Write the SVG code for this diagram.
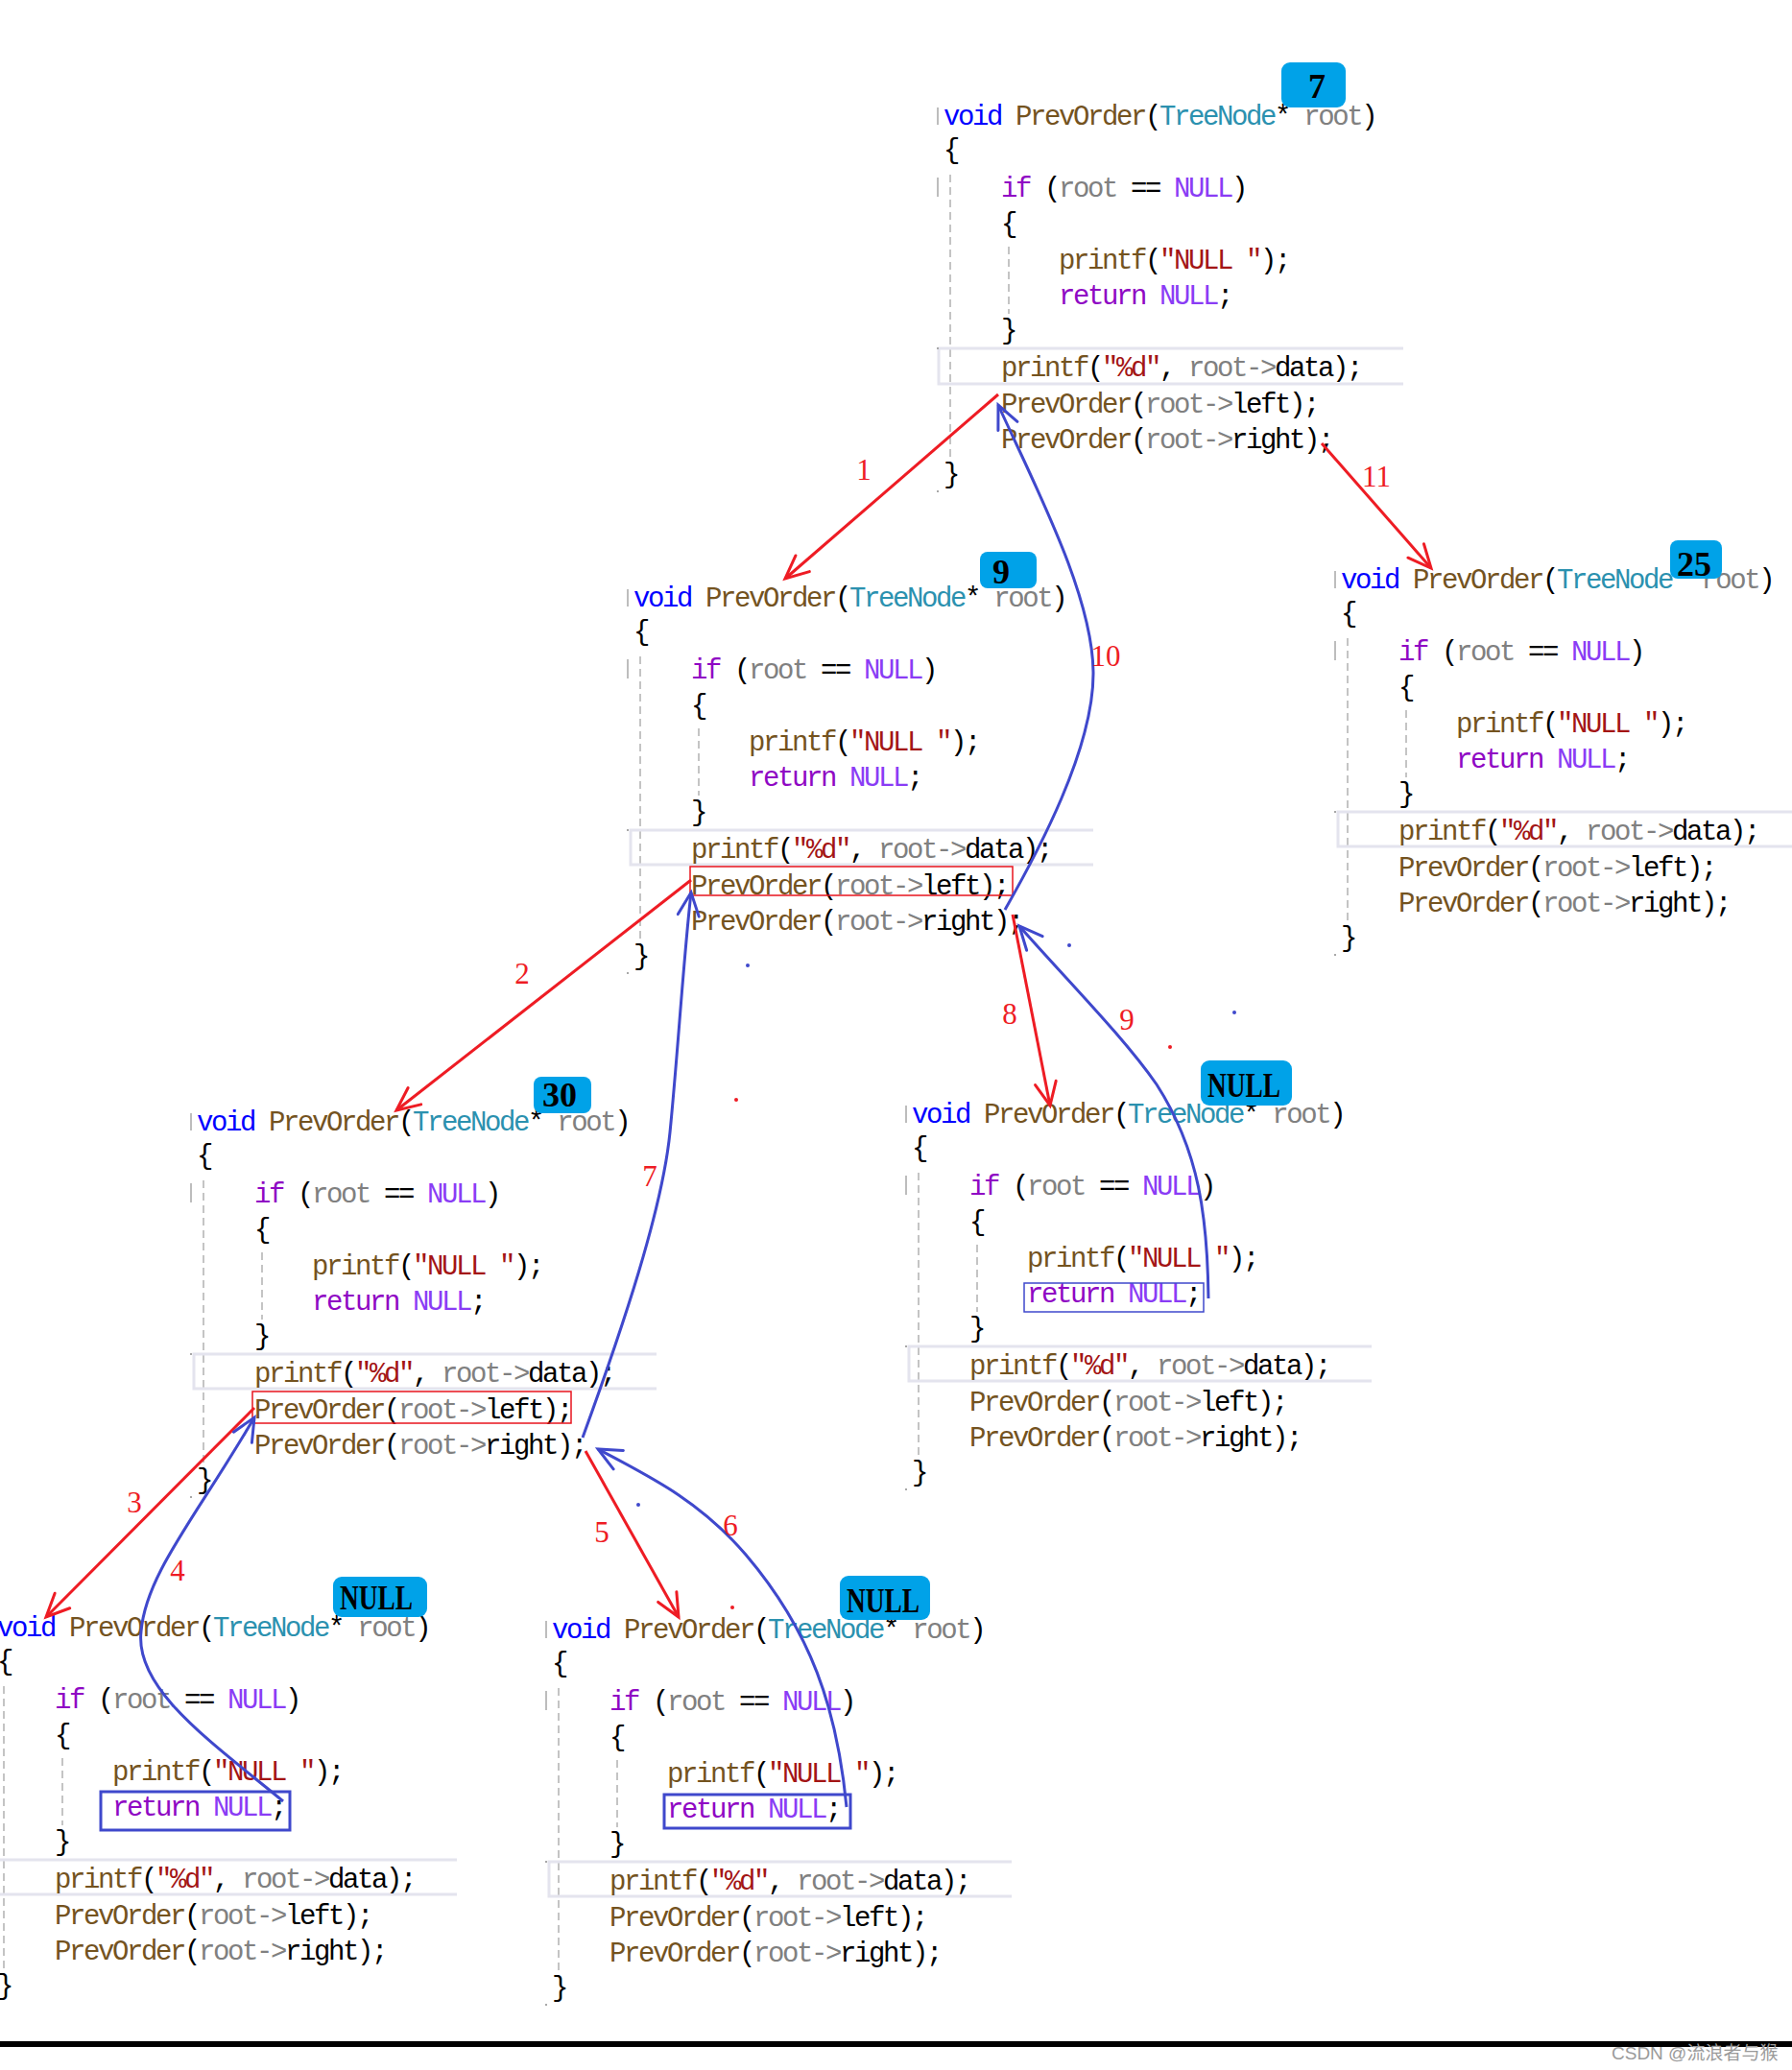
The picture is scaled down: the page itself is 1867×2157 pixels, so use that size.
<svg xmlns="http://www.w3.org/2000/svg" width="1867" height="2157" viewBox="0 0 1867 2157">
<style>
.c{font-family:"Liberation Mono",monospace;font-size:29px;letter-spacing:-2.4px;fill:#000;white-space:pre}
.kw{fill:#0000ff}.fn{fill:#74531f}.ty{fill:#2b91af}.id{fill:#808080}.kp{fill:#8f08c4}.mc{fill:#8a3cf5}.st{fill:#a31515}
.mk{stroke:#a8a8a8;stroke-width:1.5;fill:none}
.guide{stroke:#c4c4c4;stroke-width:2;stroke-dasharray:8 5;fill:none}
.hl{stroke:#e4e4ee;stroke-width:3;fill:none}
.dot{fill:#a8a8a8}
.badge{fill:#00a2e8}
.bt{font-family:"Liberation Serif",serif;font-size:36px;font-weight:bold;fill:#000;text-anchor:middle}
.rbox{fill:none;stroke:#e8141e;stroke-width:1.5}
.bbox{fill:none;stroke:#3f48cc}
.ra{fill:none;stroke:#ee1c24;stroke-width:3}
.ba{fill:none;stroke:#3f48cc;stroke-width:3}
.lbl{font-family:"Liberation Serif",serif;font-size:31px;fill:#ee1c24;text-anchor:middle}
</style>
<defs>
<marker id="mr" viewBox="-30 -15 32 30" refX="0" refY="0" markerWidth="32" markerHeight="30" markerUnits="userSpaceOnUse" orient="auto" overflow="visible"><path d="M-24,-11L0,0L-24,11" fill="none" stroke="#ee1c24" stroke-width="3" stroke-linecap="round"/></marker>
<marker id="mb" viewBox="-30 -15 32 30" refX="0" refY="0" markerWidth="32" markerHeight="30" markerUnits="userSpaceOnUse" orient="auto" overflow="visible"><path d="M-24,-11L0,0L-24,11" fill="none" stroke="#3f48cc" stroke-width="3" stroke-linecap="round"/></marker>
</defs>
<rect width="1867" height="2157" fill="#fff"/>

<g id="node-7">
<g transform="translate(983,130)">
<path class="mk" d="M-6,-18V0M-6,55V75"/>
<path class="guide" d="M7,52V353M68,127V197"/>
<path class="hl" d="M479,233H-5V270H479"/>
<rect class="dot" x="-7" y="232" width="2" height="2"/><rect class="dot" x="-7" y="381" width="2" height="2"/>
<text class="c" x="0" y="0"><tspan class="kw">void</tspan> <tspan class="fn">PrevOrder</tspan>(<tspan class="ty">TreeNode</tspan>* <tspan class="id">root</tspan>)</text>
<text class="c" x="0" y="35">{</text>
<text class="c" x="60" y="75"><tspan class="kp">if</tspan> (<tspan class="id">root</tspan> == <tspan class="mc">NULL</tspan>)</text>
<text class="c" x="60" y="112">{</text>
<text class="c" x="120" y="150"><tspan class="fn">printf</tspan>(<tspan class="st">"NULL "</tspan>);</text>
<text class="c" x="120" y="187"><tspan class="kp">return</tspan> <tspan class="mc">NULL</tspan>;</text>
<text class="c" x="60" y="223">}</text>
<text class="c" x="60" y="262"><tspan class="fn">printf</tspan>(<tspan class="st">"%d"</tspan>, <tspan class="id">root-&gt;</tspan>data);</text>
<text class="c" x="60" y="300"><tspan class="fn">PrevOrder</tspan>(<tspan class="id">root-&gt;</tspan>left);</text>
<text class="c" x="60" y="337"><tspan class="fn">PrevOrder</tspan>(<tspan class="id">root-&gt;</tspan>right);</text>
<text class="c" x="0" y="373">}</text>
</g>
<rect class="badge" x="1335" y="65" width="67" height="47" rx="9"/>
<text class="bt" x="1372" y="102">7</text>
</g>

<g id="node-9">
<g transform="translate(660,632)">
<path class="mk" d="M-6,-18V0M-6,55V75"/>
<path class="guide" d="M7,52V353M68,127V197"/>
<path class="hl" d="M479,233H-3V269H479"/>
<rect class="dot" x="-7" y="232" width="2" height="2"/><rect class="dot" x="-7" y="381" width="2" height="2"/>
<text class="c" x="0" y="0"><tspan class="kw">void</tspan> <tspan class="fn">PrevOrder</tspan>(<tspan class="ty">TreeNode</tspan>* <tspan class="id">root</tspan>)</text>
<text class="c" x="0" y="35">{</text>
<text class="c" x="60" y="75"><tspan class="kp">if</tspan> (<tspan class="id">root</tspan> == <tspan class="mc">NULL</tspan>)</text>
<text class="c" x="60" y="112">{</text>
<text class="c" x="120" y="150"><tspan class="fn">printf</tspan>(<tspan class="st">"NULL "</tspan>);</text>
<text class="c" x="120" y="187"><tspan class="kp">return</tspan> <tspan class="mc">NULL</tspan>;</text>
<text class="c" x="60" y="223">}</text>
<text class="c" x="60" y="262"><tspan class="fn">printf</tspan>(<tspan class="st">"%d"</tspan>, <tspan class="id">root-&gt;</tspan>data);</text>
<text class="c" x="60" y="300"><tspan class="fn">PrevOrder</tspan>(<tspan class="id">root-&gt;</tspan>left);</text>
<text class="c" x="60" y="337"><tspan class="fn">PrevOrder</tspan>(<tspan class="id">root-&gt;</tspan>right);</text>
<text class="c" x="0" y="373">}</text>
<rect class="rbox" x="59" y="271" width="336" height="30"/>
</g>
<rect class="badge" x="1021" y="575" width="59" height="38" rx="8"/>
<text class="bt" x="1043" y="608">9</text>
</g>

<g id="node-25">
<g transform="translate(1397,613)">
<path class="mk" d="M-6,-18V0M-6,55V75"/>
<path class="guide" d="M7,52V353M68,127V197"/>
<path class="hl" d="M479,233H-3V269H479"/>
<rect class="dot" x="-7" y="232" width="2" height="2"/><rect class="dot" x="-7" y="381" width="2" height="2"/>
<text class="c" x="0" y="0"><tspan class="kw">void</tspan> <tspan class="fn">PrevOrder</tspan>(<tspan class="ty">TreeNode</tspan>* <tspan class="id">root</tspan>)</text>
<text class="c" x="0" y="35">{</text>
<text class="c" x="60" y="75"><tspan class="kp">if</tspan> (<tspan class="id">root</tspan> == <tspan class="mc">NULL</tspan>)</text>
<text class="c" x="60" y="112">{</text>
<text class="c" x="120" y="150"><tspan class="fn">printf</tspan>(<tspan class="st">"NULL "</tspan>);</text>
<text class="c" x="120" y="187"><tspan class="kp">return</tspan> <tspan class="mc">NULL</tspan>;</text>
<text class="c" x="60" y="223">}</text>
<text class="c" x="60" y="262"><tspan class="fn">printf</tspan>(<tspan class="st">"%d"</tspan>, <tspan class="id">root-&gt;</tspan>data);</text>
<text class="c" x="60" y="300"><tspan class="fn">PrevOrder</tspan>(<tspan class="id">root-&gt;</tspan>left);</text>
<text class="c" x="60" y="337"><tspan class="fn">PrevOrder</tspan>(<tspan class="id">root-&gt;</tspan>right);</text>
<text class="c" x="0" y="373">}</text>
</g>
<rect class="badge" x="1740" y="563" width="54" height="40" rx="8"/>
<text class="bt" x="1765" y="600">25</text>
</g>

<g id="node-30">
<g transform="translate(205,1178)">
<path class="mk" d="M-6,-18V0M-6,55V75"/>
<path class="guide" d="M7,52V353M68,127V197"/>
<path class="hl" d="M479,233H-3V269H479"/>
<rect class="dot" x="-7" y="232" width="2" height="2"/><rect class="dot" x="-7" y="381" width="2" height="2"/>
<text class="c" x="0" y="0"><tspan class="kw">void</tspan> <tspan class="fn">PrevOrder</tspan>(<tspan class="ty">TreeNode</tspan>* <tspan class="id">root</tspan>)</text>
<text class="c" x="0" y="35">{</text>
<text class="c" x="60" y="75"><tspan class="kp">if</tspan> (<tspan class="id">root</tspan> == <tspan class="mc">NULL</tspan>)</text>
<text class="c" x="60" y="112">{</text>
<text class="c" x="120" y="150"><tspan class="fn">printf</tspan>(<tspan class="st">"NULL "</tspan>);</text>
<text class="c" x="120" y="187"><tspan class="kp">return</tspan> <tspan class="mc">NULL</tspan>;</text>
<text class="c" x="60" y="223">}</text>
<text class="c" x="60" y="262"><tspan class="fn">printf</tspan>(<tspan class="st">"%d"</tspan>, <tspan class="id">root-&gt;</tspan>data);</text>
<text class="c" x="60" y="300"><tspan class="fn">PrevOrder</tspan>(<tspan class="id">root-&gt;</tspan>left);</text>
<text class="c" x="60" y="337"><tspan class="fn">PrevOrder</tspan>(<tspan class="id">root-&gt;</tspan>right);</text>
<text class="c" x="0" y="373">}</text>
<rect class="rbox" x="58" y="272" width="332" height="33"/>
</g>
<rect class="badge" x="556" y="1122" width="60" height="38" rx="8"/>
<text class="bt" x="583" y="1153">30</text>
</g>

<g id="node-null-right">
<g transform="translate(950,1170)">
<path class="mk" d="M-6,-18V0M-6,55V75"/>
<path class="guide" d="M7,52V353M68,127V197"/>
<path class="hl" d="M479,233H-3V269H479"/>
<rect class="dot" x="-7" y="232" width="2" height="2"/><rect class="dot" x="-7" y="381" width="2" height="2"/>
<text class="c" x="0" y="0"><tspan class="kw">void</tspan> <tspan class="fn">PrevOrder</tspan>(<tspan class="ty">TreeNode</tspan>* <tspan class="id">root</tspan>)</text>
<text class="c" x="0" y="35">{</text>
<text class="c" x="60" y="75"><tspan class="kp">if</tspan> (<tspan class="id">root</tspan> == <tspan class="mc">NULL</tspan>)</text>
<text class="c" x="60" y="112">{</text>
<text class="c" x="120" y="150"><tspan class="fn">printf</tspan>(<tspan class="st">"NULL "</tspan>);</text>
<text class="c" x="120" y="187"><tspan class="kp">return</tspan> <tspan class="mc">NULL</tspan>;</text>
<text class="c" x="60" y="223">}</text>
<text class="c" x="60" y="262"><tspan class="fn">printf</tspan>(<tspan class="st">"%d"</tspan>, <tspan class="id">root-&gt;</tspan>data);</text>
<text class="c" x="60" y="300"><tspan class="fn">PrevOrder</tspan>(<tspan class="id">root-&gt;</tspan>left);</text>
<text class="c" x="60" y="337"><tspan class="fn">PrevOrder</tspan>(<tspan class="id">root-&gt;</tspan>right);</text>
<text class="c" x="0" y="373">}</text>
<rect class="bbox" x="117" y="167" width="187" height="30" stroke-width="1.5"/>
</g>
<rect class="badge" x="1251" y="1105" width="95" height="47" rx="9"/>
<text class="bt" x="1296" y="1143" textLength="76" lengthAdjust="spacingAndGlyphs">NULL</text>
</g>

<g id="node-null-left">
<g transform="translate(-3,1705)">
<path class="mk" d="M-6,-18V0M-6,55V75"/>
<path class="guide" d="M7,52V353M68,127V197"/>
<path class="hl" d="M479,233H-3V269H479"/>
<text class="c" x="0" y="0"><tspan class="kw">void</tspan> <tspan class="fn">PrevOrder</tspan>(<tspan class="ty">TreeNode</tspan>* <tspan class="id">root</tspan>)</text>
<text class="c" x="0" y="35">{</text>
<text class="c" x="60" y="75"><tspan class="kp">if</tspan> (<tspan class="id">root</tspan> == <tspan class="mc">NULL</tspan>)</text>
<text class="c" x="60" y="112">{</text>
<text class="c" x="120" y="150"><tspan class="fn">printf</tspan>(<tspan class="st">"NULL "</tspan>);</text>
<text class="c" x="120" y="187"><tspan class="kp">return</tspan> <tspan class="mc">NULL</tspan>;</text>
<text class="c" x="60" y="223">}</text>
<text class="c" x="60" y="262"><tspan class="fn">printf</tspan>(<tspan class="st">"%d"</tspan>, <tspan class="id">root-&gt;</tspan>data);</text>
<text class="c" x="60" y="300"><tspan class="fn">PrevOrder</tspan>(<tspan class="id">root-&gt;</tspan>left);</text>
<text class="c" x="60" y="337"><tspan class="fn">PrevOrder</tspan>(<tspan class="id">root-&gt;</tspan>right);</text>
<text class="c" x="0" y="373">}</text>
<rect class="bbox" x="108" y="162" width="197" height="40" stroke-width="3"/>
</g>
<rect class="badge" x="347" y="1643" width="98" height="42" rx="9"/>
<text class="bt" x="392" y="1677" textLength="76" lengthAdjust="spacingAndGlyphs">NULL</text>
</g>

<g id="node-null-mid">
<g transform="translate(575,1707)">
<path class="mk" d="M-6,-18V0M-6,55V75"/>
<path class="guide" d="M7,52V353M68,127V197"/>
<path class="hl" d="M479,233H-3V269H479"/>
<rect class="dot" x="-7" y="232" width="2" height="2"/><rect class="dot" x="-7" y="381" width="2" height="2"/>
<text class="c" x="0" y="0"><tspan class="kw">void</tspan> <tspan class="fn">PrevOrder</tspan>(<tspan class="ty">TreeNode</tspan>* <tspan class="id">root</tspan>)</text>
<text class="c" x="0" y="35">{</text>
<text class="c" x="60" y="75"><tspan class="kp">if</tspan> (<tspan class="id">root</tspan> == <tspan class="mc">NULL</tspan>)</text>
<text class="c" x="60" y="112">{</text>
<text class="c" x="120" y="150"><tspan class="fn">printf</tspan>(<tspan class="st">"NULL "</tspan>);</text>
<text class="c" x="120" y="187"><tspan class="kp">return</tspan> <tspan class="mc">NULL</tspan>;</text>
<text class="c" x="60" y="223">}</text>
<text class="c" x="60" y="262"><tspan class="fn">printf</tspan>(<tspan class="st">"%d"</tspan>, <tspan class="id">root-&gt;</tspan>data);</text>
<text class="c" x="60" y="300"><tspan class="fn">PrevOrder</tspan>(<tspan class="id">root-&gt;</tspan>left);</text>
<text class="c" x="60" y="337"><tspan class="fn">PrevOrder</tspan>(<tspan class="id">root-&gt;</tspan>right);</text>
<text class="c" x="0" y="373">}</text>
<rect class="bbox" x="117" y="163" width="194" height="35" stroke-width="3"/>
</g>
<rect class="badge" x="875" y="1642" width="94" height="46" rx="9"/>
<text class="bt" x="920" y="1680" textLength="76" lengthAdjust="spacingAndGlyphs">NULL</text>
</g>

<g id="connectors">
<path class="ra" d="M1040,411 L818,603" marker-end="url(#mr)"/>
<path class="ra" d="M720,917 L413,1157" marker-end="url(#mr)"/>
<path class="ra" d="M265,1467 L48,1685" marker-end="url(#mr)"/>
<path class="ba" d="M295,1877 C220,1815 140,1760 147,1700 C152,1640 205,1580 265,1477" marker-end="url(#mb)"/>
<path class="ra" d="M610,1512 L707,1685" marker-end="url(#mr)"/>
<path class="ba" d="M882,1883 C872,1780 845,1700 777,1620 C730,1565 680,1540 623,1510" marker-end="url(#mb)"/>
<path class="ba" d="M607,1498 C650,1380 690,1260 698,1180 C706,1100 712,1000 720,930" marker-end="url(#mb)"/>
<path class="ra" d="M1055,953 L1094,1152" marker-end="url(#mr)"/>
<path class="ba" d="M1259,1353 C1258,1270 1250,1200 1205,1130 C1170,1080 1115,1025 1062,965" marker-end="url(#mb)"/>
<path class="ba" d="M1047,948 C1080,890 1140,780 1139,700 C1138,620 1080,510 1040,422" marker-end="url(#mb)"/>
<path class="ra" d="M1377,462 L1491,592" marker-end="url(#mr)"/>
<text class="lbl" x="900" y="500">1</text>
<text class="lbl" x="544" y="1025">2</text>
<text class="lbl" x="140" y="1576">3</text>
<text class="lbl" x="185" y="1647">4</text>
<text class="lbl" x="627" y="1607">5</text>
<text class="lbl" x="761" y="1600">6</text>
<text class="lbl" x="677" y="1236">7</text>
<text class="lbl" x="1052" y="1067">8</text>
<text class="lbl" x="1174" y="1073">9</text>
<text class="lbl" x="1152" y="694">10</text>
<text class="lbl" x="1434" y="507">11</text>
</g>

<g id="marks">
<circle cx="779" cy="1006" r="2" fill="#3f48cc"/>
<circle cx="1114" cy="985" r="2" fill="#3f48cc"/>
<circle cx="1286" cy="1055" r="2" fill="#3f48cc"/>
<circle cx="665" cy="1568" r="2" fill="#3f48cc"/>
<circle cx="767" cy="1146" r="2" fill="#ee1c24"/>
<circle cx="1219" cy="1091" r="2" fill="#ee1c24"/>
<circle cx="763" cy="1675" r="2" fill="#ee1c24"/>
</g>

<rect x="0" y="2127" width="1867" height="6" fill="#000"/>
<text x="1679" y="2146" font-family="'Liberation Sans','Noto Sans CJK SC',sans-serif" font-size="19" fill="#9a9a9a">CSDN @流浪者与猴</text>
</svg>
